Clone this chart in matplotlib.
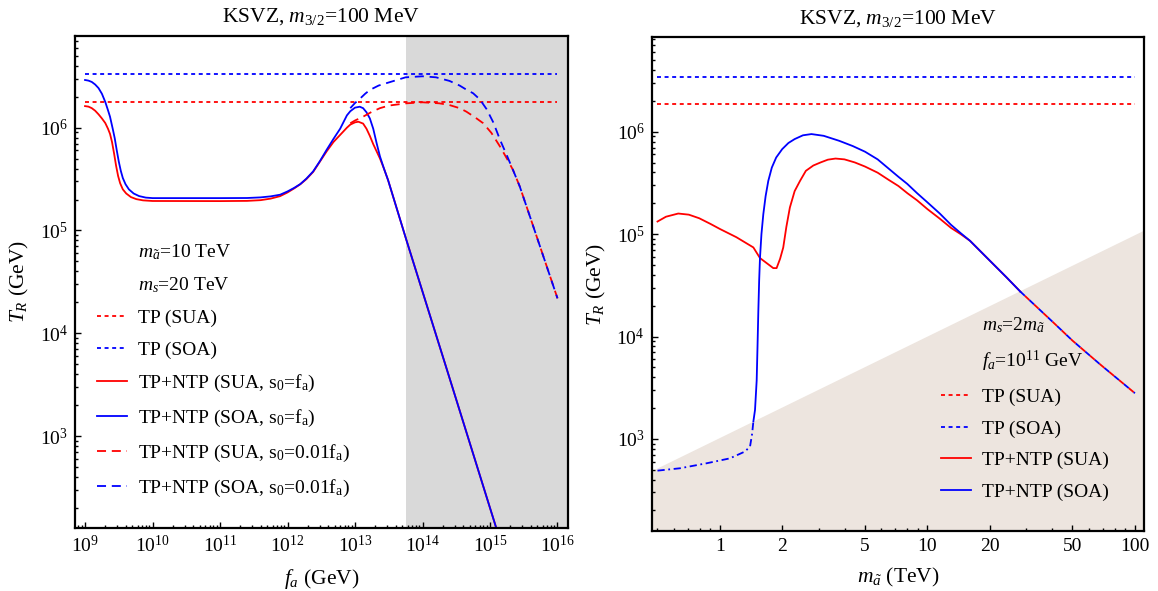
import matplotlib
matplotlib.use("Agg")
import matplotlib.pyplot as plt
from matplotlib.ticker import LogLocator, LogFormatterMathtext, FixedLocator, NullFormatter
import numpy as np

plt.rcParams['font.family'] = ['Liberation Serif', 'DejaVu Serif']
plt.rcParams['mathtext.fontset'] = 'custom'
plt.rcParams['mathtext.rm'] = 'Liberation Serif'
plt.rcParams['mathtext.it'] = 'Liberation Serif:italic'
plt.rcParams['mathtext.bf'] = 'Liberation Serif:bold'

RED = '#ff0000'
BLUE = '#0000ff'

# ---------------- left panel data (T_R vs f_a), values read as log10 ----------------
fa_lim = [7.11e8, 1.42e16]
T_lim_left = [128.5, 7.85e6]
fa_ticks = [1e9, 1e10, 1e11, 1e12, 1e13, 1e14, 1e15, 1e16]
T_ticks = [1e3, 1e4, 1e5, 1e6]
gray_start = 5.7e13
fa_tp = [1e9, 1e16]
T_tp_sua_left = [1.79e6, 1.79e6]
T_tp_soa_left = [3.33e6, 3.33e6]

lfa_red = [9.0, 9.05, 9.1, 9.15, 9.2, 9.25, 9.3, 9.34, 9.37, 9.4, 9.43, 9.46, 9.49, 9.52,
           9.56, 9.61, 9.68, 9.76, 9.86, 10.0, 11.0, 11.4, 11.6, 11.75, 11.89, 12.0, 12.1,
           12.19, 12.28, 12.38, 12.48, 12.58, 12.68, 12.78, 12.88, 12.93, 13.0, 13.05,
           13.12, 13.17, 13.22, 13.27, 13.32, 13.37, 13.43, 13.49, 13.76, 14.41, 15.2]
lT_red = [6.21, 6.205, 6.19, 6.165, 6.13, 6.09, 6.045, 5.99, 5.94, 5.86, 5.75, 5.63, 5.53,
          5.46, 5.40, 5.36, 5.325, 5.305, 5.293, 5.287, 5.286, 5.288, 5.295, 5.31, 5.334,
          5.37, 5.41, 5.45, 5.50, 5.57, 5.67, 5.77, 5.86, 5.93, 6.0, 6.03, 6.052, 6.058,
          6.04, 5.99, 5.92, 5.84, 5.77, 5.70, 5.60, 5.49, 4.91, 3.545, 1.88]

lfa_blue = [9.0, 9.05, 9.1, 9.15, 9.2, 9.25, 9.3, 9.34, 9.37, 9.41, 9.44, 9.47, 9.5, 9.53,
            9.56, 9.6, 9.65, 9.72, 9.8, 9.9, 10.0, 11.0, 11.4, 11.6, 11.75, 11.89, 12.0,
            12.1, 12.19, 12.28, 12.38, 12.48, 12.58, 12.68, 12.78, 12.88, 12.93, 13.0,
            13.07, 13.12, 13.17, 13.22, 13.27, 13.32, 13.37, 13.43, 13.49, 13.76, 14.41,
            15.2]
lT_blue = [6.464, 6.458, 6.445, 6.42, 6.385, 6.33, 6.25, 6.17, 6.107, 5.99, 5.897, 5.78,
           5.67, 5.58, 5.51, 5.45, 5.40, 5.36, 5.335, 5.32, 5.315, 5.315, 5.316, 5.322,
           5.332, 5.348, 5.38, 5.415, 5.452, 5.505, 5.575, 5.675, 5.785, 5.89, 5.99, 6.12,
           6.16, 6.195, 6.204, 6.19, 6.15, 6.09, 5.99, 5.85, 5.72, 5.60, 5.49, 4.91, 3.545,
           1.88]

lfa_red_d = [12.93, 13.0, 13.12, 13.25, 13.37, 13.5, 13.76, 14.0, 14.25, 14.4, 14.55,
             14.65, 14.78, 14.9, 15.02, 15.15, 15.25, 15.34, 15.44, 15.6, 15.8, 16.0]
lT_red_d = [6.043, 6.07, 6.107, 6.155, 6.19, 6.215, 6.237, 6.247, 6.237, 6.22, 6.19,
            6.156, 6.10, 6.043, 5.95, 5.815, 5.70, 5.59, 5.43, 5.12, 4.73, 4.34]

lfa_blue_d = [12.93, 13.0, 13.07, 13.15, 13.22, 13.35, 13.5, 13.75, 14.0, 14.2, 14.4,
              14.55, 14.65, 14.75, 14.85, 14.95, 15.05, 15.15, 15.25, 15.34, 15.44, 15.6,
              15.8, 16.0]
lT_blue_d = [6.19, 6.24, 6.28, 6.33, 6.367, 6.41, 6.44, 6.49, 6.50, 6.49, 6.455, 6.41,
             6.37, 6.335, 6.275, 6.18, 6.05, 5.88, 5.73, 5.59, 5.43, 5.12, 4.73, 4.34]

# ---------------- right panel data (T_R vs m_axino in TeV), values read as log10 ----------------
m_lim = [0.469, 111]
T_lim_right = [126, 8.36e6]
m_ticks = [1, 2, 5, 10, 20, 50, 100]
m_minor = [0.5, 0.6, 0.7, 0.8, 0.9, 3, 4, 6, 7, 8, 9, 30, 40, 60, 70, 80, 90]
m_shade = [0.469, 111]
T_shade = [490, 1.1e5]
m_tp = [0.5, 100]
T_tp_sua_right = [1.85e6, 1.85e6]
T_tp_soa_right = [3.44e6, 3.44e6]

lm_red = [-0.301, -0.26, -0.201, -0.15, -0.1, -0.046, 0.0, 0.079, 0.161, 0.193, 0.257,
          0.273, 0.29, 0.305, 0.32, 0.337, 0.36, 0.386, 0.414, 0.45, 0.485, 0.52, 0.557,
          0.6, 0.65, 0.699, 0.76, 0.813, 0.86, 0.903, 0.95, 1.0, 1.06, 1.114, 1.16, 1.205,
          1.301, 1.38, 1.447]
lT_red_r = [5.123, 5.17, 5.201, 5.19, 5.155, 5.10, 5.05, 4.97, 4.87, 4.766, 4.668, 4.668,
            4.76, 4.869, 5.07, 5.26, 5.42, 5.52, 5.618, 5.67, 5.70, 5.727, 5.738, 5.73,
            5.70, 5.66, 5.60, 5.53, 5.47, 5.40, 5.33, 5.244, 5.15, 5.06, 5.0, 4.935, 4.74,
            4.58, 4.44]

lm_blue = [0.161, 0.169, 0.177, 0.181, 0.185, 0.189, 0.193, 0.2, 0.209, 0.22, 0.233, 0.25,
           0.271, 0.3, 0.33, 0.36, 0.4, 0.441, 0.5, 0.575, 0.64, 0.699, 0.76, 0.813, 0.86,
           0.903, 0.95, 1.0, 1.06, 1.114, 1.16, 1.205, 1.301, 1.38, 1.447]
lT_blue_r = [3.169, 3.283, 3.57, 3.9, 4.25, 4.55, 4.77, 5.0, 5.195, 5.37, 5.52, 5.65,
             5.748, 5.83, 5.89, 5.928, 5.965, 5.977, 5.96, 5.911, 5.86, 5.805, 5.73, 5.64,
             5.56, 5.49, 5.40, 5.31, 5.2, 5.09, 5.01, 4.935, 4.74, 4.58, 4.44]

lm_blue_low = [-0.301, -0.193, -0.064, 0.048, 0.12, 0.145, 0.155, 0.161]
lT_blue_low = [2.69, 2.713, 2.762, 2.81, 2.876, 2.925, 3.05, 3.169]

lm_tail = [1.447, 1.602, 1.699, 1.831, 2.0]
lT_tail = [4.44, 4.146, 3.96, 3.73, 3.446]

title = r'KSVZ, $m_{3/2}$=100 MeV'
FS = 14

dot = (0, (2.2, 2.0))
dash = (0, (5.0, 3.2))
lw = 1.3


def p10(v):
    return np.power(10.0, v)


fig = plt.figure(figsize=(11.58, 5.91), dpi=100)
ax1 = fig.add_axes([0.0648, 0.1071, 0.4255, 0.8325])
ax2 = fig.add_axes([0.5628, 0.1015, 0.4254, 0.8354])


def style_axes(ax):
    ax.set_xscale('log')
    ax.set_yscale('log')
    for s in ax.spines.values():
        s.set_linewidth(1.6)
    ax.tick_params(which='both', direction='in', top=False, right=False,
                   labelsize=FS, width=1.0, pad=5)
    ax.tick_params(which='major', length=4.5)
    ax.tick_params(which='minor', length=2.5)
    ax.yaxis.set_major_locator(FixedLocator(T_ticks))
    ax.yaxis.set_minor_locator(LogLocator(base=10, subs=np.arange(2, 10), numticks=20))
    ax.yaxis.set_major_formatter(LogFormatterMathtext())
    ax.yaxis.set_minor_formatter(NullFormatter())
    ax.set_ylabel(r'$T_R$ (GeV)', fontsize=15.5, labelpad=6)
    ax.set_title(title, fontsize=15.5, pad=10)


leg_kw = dict(loc='center left', bbox_transform=fig.transFigure, frameon=False,
              fontsize=FS, borderpad=0, borderaxespad=0, handlelength=1.55,
              handletextpad=0.55, labelspacing=0.72)

# left panel
style_axes(ax1)
ax1.axvspan(gray_start, 1e17, color='#d9d9d9', lw=0, zorder=0)
ax1.plot(fa_tp, T_tp_sua_left, color=RED, ls=dot, lw=lw, label='TP (SUA)')
ax1.plot(fa_tp, T_tp_soa_left, color=BLUE, ls=dot, lw=lw, label='TP (SOA)')
ax1.plot(p10(lfa_red), p10(lT_red), color=RED, lw=lw,
         label=r'TP+NTP (SUA, s$_0$=f$_\mathregular{a}$)')
ax1.plot(p10(lfa_blue), p10(lT_blue), color=BLUE, lw=lw,
         label=r'TP+NTP (SOA, s$_0$=f$_\mathregular{a}$)')
ax1.plot(p10(lfa_red_d), p10(lT_red_d), color=RED, ls=dash, lw=lw,
         label=r'TP+NTP (SUA, s$_0$=0.01f$_\mathregular{a}$)')
ax1.plot(p10(lfa_blue_d), p10(lT_blue_d), color=BLUE, ls=dash, lw=lw,
         label=r'TP+NTP (SOA, s$_0$=0.01f$_\mathregular{a}$)')
ax1.set_xlim(fa_lim)
ax1.set_ylim(T_lim_left)
ax1.xaxis.set_major_locator(FixedLocator(fa_ticks))
ax1.xaxis.set_minor_locator(LogLocator(base=10, subs=np.arange(2, 10), numticks=20))
ax1.xaxis.set_major_formatter(LogFormatterMathtext())
ax1.xaxis.set_minor_formatter(NullFormatter())
ax1.set_xlabel(r'$f_a$ (GeV)', fontsize=15.5, labelpad=8)

h, l = ax1.get_legend_handles_labels()
e1, = ax1.plot([], [], ' ', label=r'$m_{\tilde{a}}$=10 TeV')
e2, = ax1.plot([], [], ' ', label=r'$m_s$=20 TeV')
ax1.legend([e1, e2] + h, [e1.get_label(), e2.get_label()] + l,
           bbox_to_anchor=(96.7 / 1158, 1 - 370.7 / 591), **leg_kw)

# right panel
style_axes(ax2)
ax2.fill_between(m_shade, T_shade, [1, 1], color='#ede5df', lw=0, zorder=0)
ax2.plot(m_tp, T_tp_sua_right, color=RED, ls=dot, lw=lw, label='TP (SUA)')
ax2.plot(m_tp, T_tp_soa_right, color=BLUE, ls=dot, lw=lw, label='TP (SOA)')
ax2.plot(p10(lm_red), p10(lT_red_r), color=RED, lw=lw, label='TP+NTP (SUA)')
ax2.plot(p10(lm_blue), p10(lT_blue_r), color=BLUE, lw=lw, label='TP+NTP (SOA)')
ax2.plot(p10(lm_blue_low), p10(lT_blue_low), color=BLUE, lw=lw, ls=(0, (4, 2, 1, 2)))
ax2.plot(p10(lm_tail), p10(lT_tail), color=BLUE, lw=lw, ls=(0, (3.5, 3.5)))
ax2.plot(p10(lm_tail), p10(lT_tail), color=RED, lw=lw, ls=(3.5, (3.5, 3.5)))
ax2.set_xlim(m_lim)
ax2.set_ylim(T_lim_right)
ax2.xaxis.set_major_locator(FixedLocator(m_ticks))
ax2.xaxis.set_minor_locator(FixedLocator(m_minor))
ax2.xaxis.set_major_formatter(plt.FuncFormatter(lambda v, p: '%g' % v))
ax2.xaxis.set_minor_formatter(NullFormatter())
ax2.set_xlabel(r'$m_{\tilde{a}}$ (TeV)', fontsize=15.5, labelpad=8)

h, l = ax2.get_legend_handles_labels()
r1, = ax2.plot([], [], ' ', label=r'$m_s$=2$m_{\tilde{a}}$')
r2, = ax2.plot([], [], ' ', label=r'$f_a$=10$^{11}$ GeV')
ax2.legend([r1, r2] + h, [r1.get_label(), r2.get_label()] + l,
           bbox_to_anchor=(941 / 1158, 1 - 408.2 / 591), **leg_kw)

fig.savefig('out.png', dpi=100)
